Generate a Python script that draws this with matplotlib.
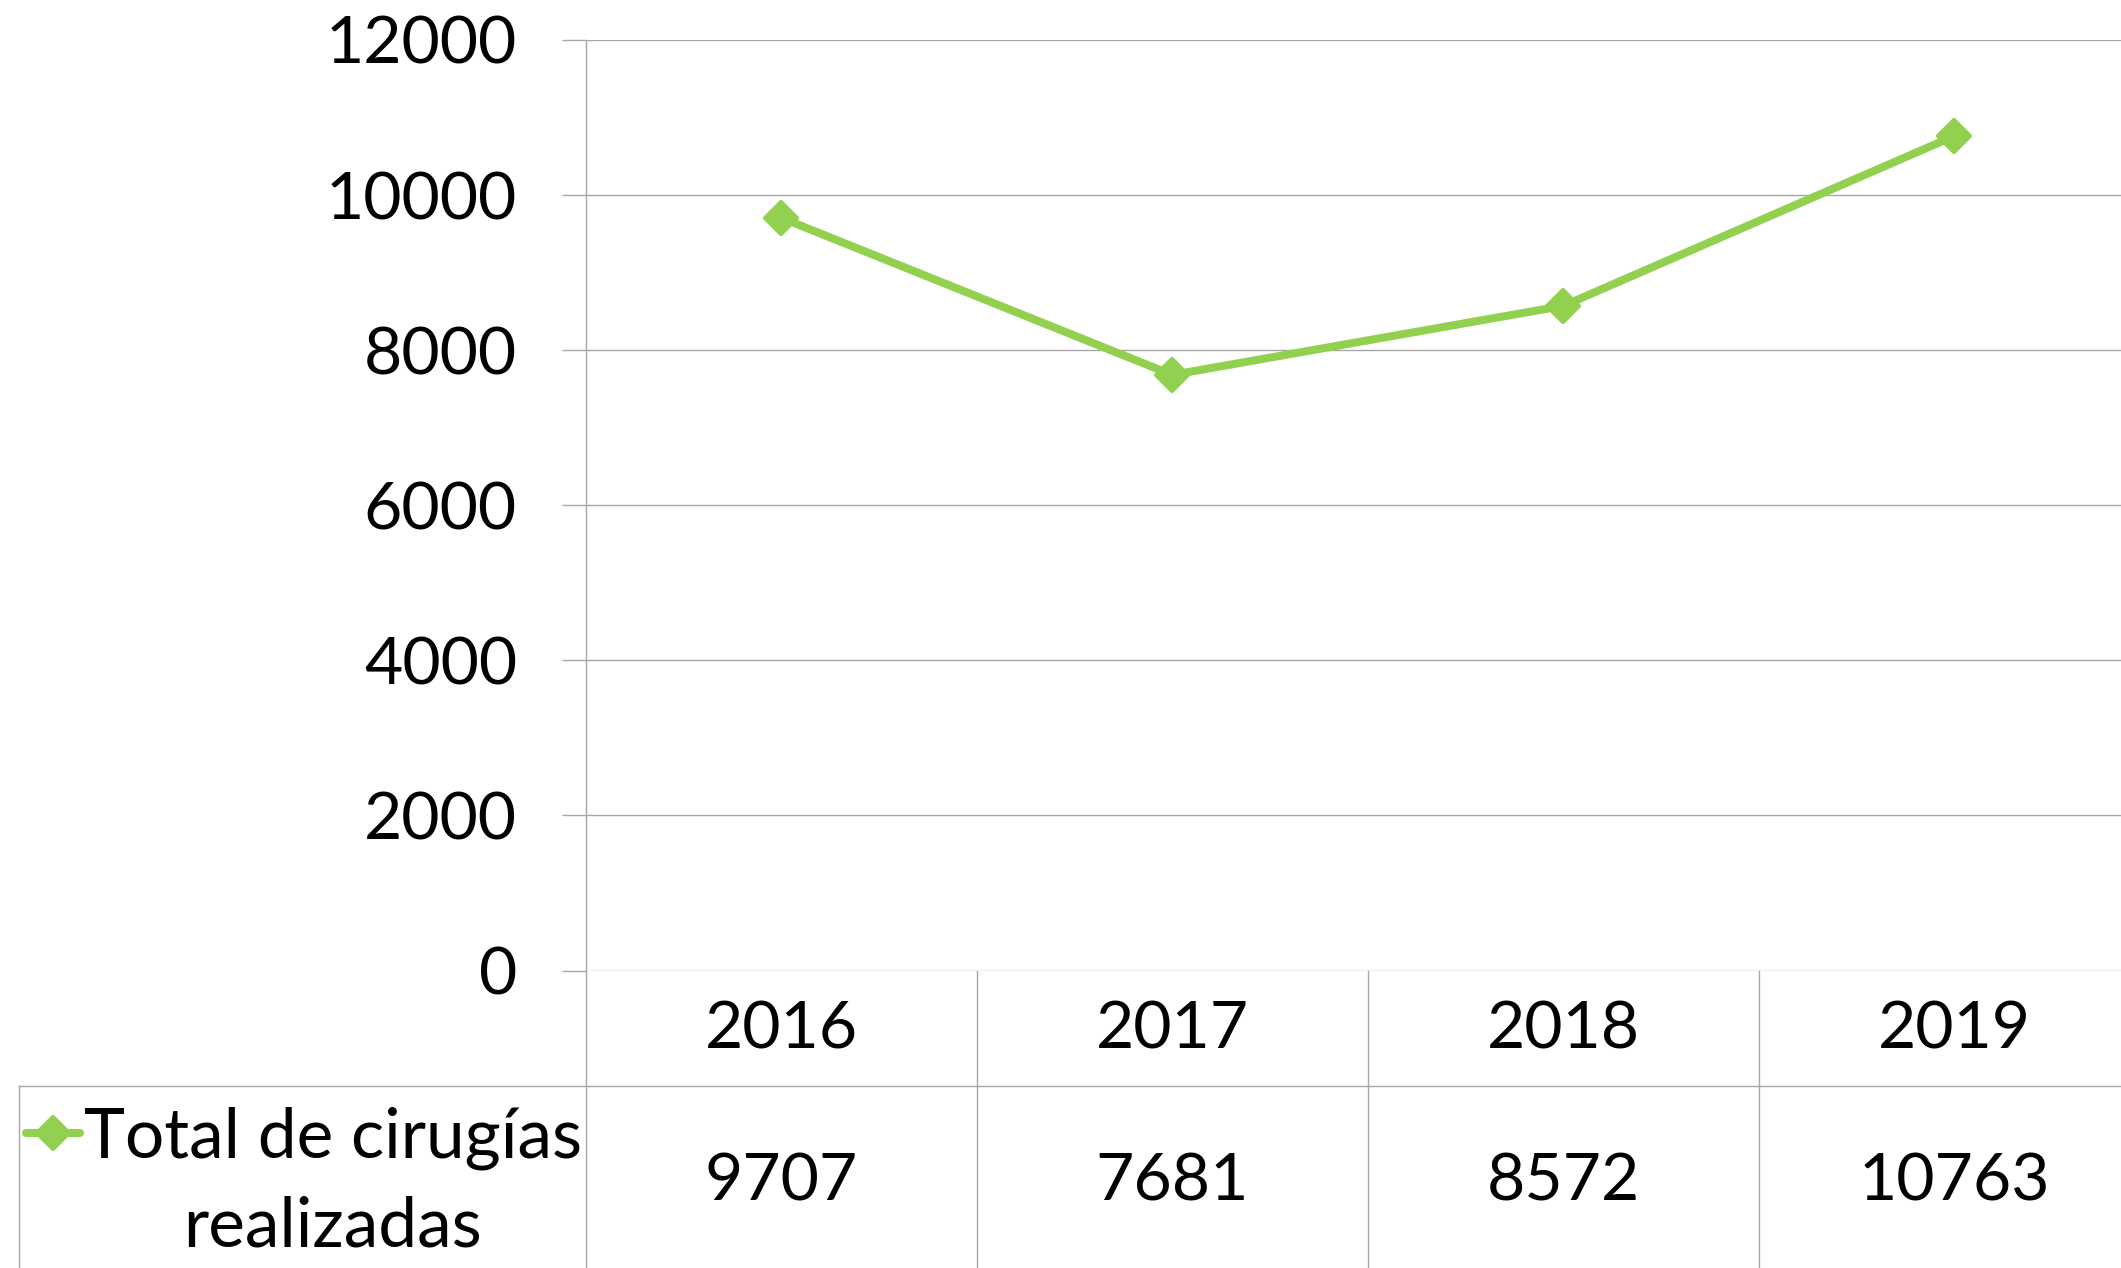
import matplotlib
matplotlib.use("Agg")
import matplotlib.pyplot as plt
from matplotlib.markers import MarkerStyle
from matplotlib.lines import Line2D

years = ["2016", "2017", "2018", "2019"]
values = [9707, 7681, 8572, 10763]
yticks = [0, 2000, 4000, 6000, 8000, 10000, 12000]
series_label = ["Total de cirugías", "realizadas"]

GREEN = "#92D050"
GRID = "#A6A6A6"
FONT = "Lato"
FS = 47.5
FS_LEG = 50

W, H = 2121, 1268
fig = plt.figure(figsize=(W / 100, H / 100), dpi=100)
left_px, right_px, top_px, zero_px = 585.7, 2150.0, 40.0, 970.5
ax = fig.add_axes([left_px / W, (H - zero_px) / H, (right_px - left_px) / W, (zero_px - top_px) / H])
ax.set_xlim(0, len(years))
ax.set_ylim(0, 12000)
ax.set_yticks(yticks)
ax.set_yticklabels([str(v) for v in yticks], fontfamily=FONT, fontsize=FS)
ax.tick_params(axis="y", length=17, width=1, color=GRID, pad=32.5)
ax.tick_params(axis="x", length=0, labelbottom=False)
ax.set_xticks([])
ax.grid(axis="y", color=GRID, linewidth=1.0)
ax.set_axisbelow(True)
for s in ["top", "right", "bottom"]:
    ax.spines[s].set_visible(False)
ax.spines["left"].set_color(GRID)
ax.spines["left"].set_linewidth(1.0)

xs = [i + 0.5 for i in range(len(years))]
mk = MarkerStyle("D", joinstyle="round")
ax.plot(xs, values, color=GREEN, linewidth=5.8, marker=mk, markersize=16,
        markeredgewidth=3, markeredgecolor=GREEN, markerfacecolor=GREEN,
        solid_capstyle="round", clip_on=False, zorder=5)

# data table below the axis
ph = zero_px - top_px
pw = right_px - left_px
def fy(px):
    return (zero_px - px) / ph
def fx(px):
    return (px - left_px) / pw

trx = ax.get_xaxis_transform()
row_y = fy(1085.7)
bot_y = fy(H + 5)
for i in range(len(years) + 1):
    ax.plot([i, i], [0, bot_y], transform=trx, color=GRID, linewidth=1.0, clip_on=False)
ax.plot([fx(19), 1.2], [row_y, row_y], transform=ax.transAxes, color=GRID, linewidth=1.0, clip_on=False)
ax.plot([fx(19), fx(19)], [row_y, bot_y], transform=ax.transAxes, color=GRID, linewidth=1.0, clip_on=False)

for x, yr, v in zip(xs, years, values):
    ax.text(x, fy(1030), yr, transform=trx, ha="center", va="center", fontfamily=FONT, fontsize=FS)
    ax.text(x, fy(1182), str(v), transform=trx, ha="center", va="center", fontfamily=FONT, fontsize=FS)

ax.text(fx(333), fy(1138), series_label[0], transform=ax.transAxes, ha="center", va="center",
        fontfamily=FONT, fontsize=FS_LEG)
ax.text(fx(333), fy(1227), series_label[1], transform=ax.transAxes, ha="center", va="center",
        fontfamily=FONT, fontsize=FS_LEG)
ax.add_line(Line2D([fx(26), fx(80)], [fy(1133), fy(1133)], transform=ax.transAxes, color=GREEN,
                   linewidth=5.8, solid_capstyle="round", clip_on=False))
ax.add_line(Line2D([fx(53)], [fy(1133)], transform=ax.transAxes, color=GREEN, marker=mk,
                   markersize=16, markeredgewidth=3, clip_on=False))

fig.savefig("out.png", dpi=100)
